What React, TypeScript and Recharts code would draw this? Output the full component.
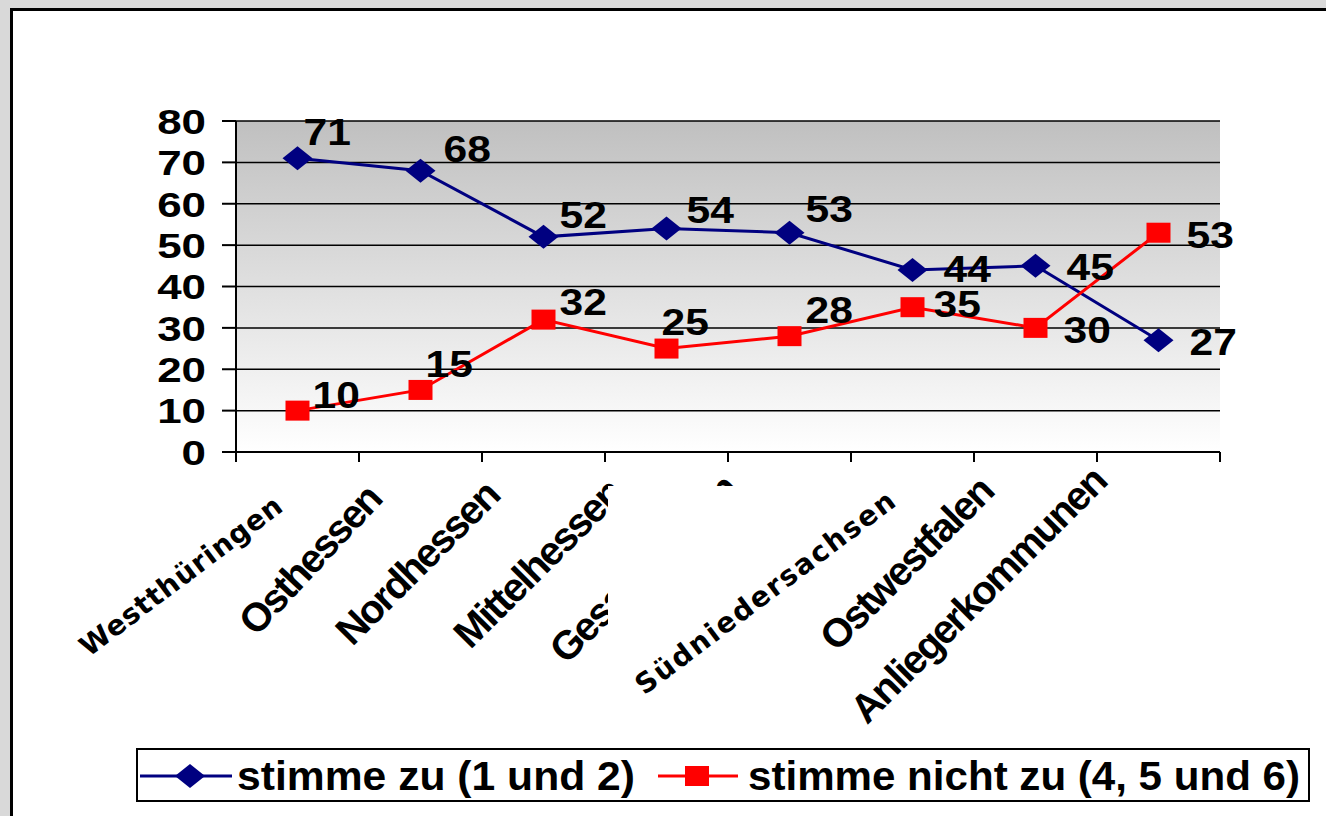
import React from 'react';
import { LineChart, Line, XAxis, YAxis, CartesianGrid, Legend, LabelList } from 'recharts';

const categories = [
  'Westthüringen',
  'Osthessen',
  'Nordhessen',
  'Mittelhessen',
  'Gesamtregion',
  'Südniedersachsen',
  'Ostwestfalen',
  'Anliegerkommunen',
];
const zustimmung = [71, 68, 52, 54, 53, 44, 45, 27];
const ablehnung = [10, 15, 32, 25, 28, 35, 30, 53];
const yTicks = [0, 10, 20, 30, 40, 50, 60, 70, 80];
const seriesNames = ['stimme zu (1 und 2)', 'stimme nicht zu (4, 5 und 6)'];

const data = categories.map((name, i) => ({ name, zu: zustimmung[i], nicht: ablehnung[i] }));

const ARIAL = '"Liberation Sans", Arial, Helvetica, sans-serif';
const DEJAVU = '"DejaVu Sans", Verdana, sans-serif';
const NAVY = '#000080';
const RED = '#ff0000';
const PLOT_W = 984;
const HALF_BAND = PLOT_W / categories.length / 2;

// hand placed value labels (offset from the point, text baseline)
const zuLabelShift = [[6, -13], [23, -9], [16, -9], [20, -6], [16, -11], [31, 12], [31, 14], [31, 15]];
const nichtLabelShift = [[15, -3], [5, -13], [16, -5], [-5, -14], [16, -13], [21, 10], [28, 15], [28, 15]];

// rotated category labels: anchor offset from tick, angle
const tickLook: any[] = [
  { dx: -13, dy: 58, rot: -37, family: DEJAVU, size: 28, len: 245 },
  { dx: -37, dy: 49, rot: -47 },
  { dx: -42, dy: 46, rot: -45 },
  { dx: -42, dy: 44, rot: -45 },
  { dx: -50, dy: 40, rot: -45 },
  { dx: -15, dy: 53, rot: -37, family: DEJAVU, size: 28, len: 317 },
  { dx: -40, dy: 42, rot: -45 },
  { dx: -50, dy: 32, rot: -45 },
];

const diamondPath = (cx: number, cy: number) =>
  `M${cx},${cy - 12} L${cx + 15},${cy} L${cx},${cy + 12} L${cx - 15},${cy} Z`;

const renderDiamond = (p: any) => (
  <path key={`zu-${p.index}`} d={diamondPath(p.cx, p.cy)} fill={NAVY} />
);

const renderSquare = (p: any) => (
  <rect key={`ni-${p.index}`} x={p.cx - 12} y={p.cy - 10} width={24} height={20} fill={RED} />
);

const makeLabel = (shift: number[][]) => (p: any) => {
  const vb = p.viewBox || {};
  const px = vb.x ?? p.x;
  const py = vb.y ?? p.y;
  const [dx, dy] = shift[p.index] || [0, 0];
  return (
    <text
      transform={`translate(${px + dx},${py + dy}) scale(1.15,1)`}
      fontFamily={ARIAL}
      fontSize={37}
      fontWeight="bold"
      fill="#000"
      textAnchor="start"
    >
      {p.value}
    </text>
  );
};

const YTick = (props: any) => {
  const { x, y, payload } = props;
  return (
    <text
      transform={`translate(${x},${y}) scale(1.22,1)`}
      dy="0.355em"
      textAnchor="end"
      fontFamily={ARIAL}
      fontSize={36}
      fontWeight="bold"
      fill="#000"
    >
      {payload.value}
    </text>
  );
};

const XTick = (props: any) => {
  const { x, y, index, payload } = props;
  const look = tickLook[index] || { dx: 0, dy: 40, rot: -45 };
  const last = index === categories.length - 1;
  return (
    <g>
      <line x1={x - HALF_BAND} x2={x - HALF_BAND} y1={y} y2={y + 10} stroke="#000" strokeWidth={2} />
      {last && <line x1={x + HALF_BAND} x2={x + HALF_BAND} y1={y} y2={y + 10} stroke="#000" strokeWidth={2} />}
      {index === 5 && <rect x={x - 304.5} y={y + 34} width={207} height={214} fill="#fff" />}
      <text
        transform={`translate(${x + look.dx},${y + look.dy}) rotate(${look.rot})`}
        textAnchor="end"
        fontFamily={look.family || ARIAL}
        fontSize={look.size || 40}
        fontWeight="bold"
        letterSpacing={look.family ? undefined : -2}
        textLength={look.len}
        lengthAdjust={look.len ? 'spacing' : undefined}
        fill="#000"
      >
        {payload.value}
      </text>
    </g>
  );
};

const LegendBox = (props: any) => {
  const items = props.payload || [];
  const zu = items.find((it: any) => it.dataKey === 'zu');
  const ni = items.find((it: any) => it.dataKey === 'nicht');
  return (
    <svg width={1170} height={50} style={{ display: 'block' }}>
      <line x1={2} x2={94} y1={26} y2={26} stroke={NAVY} strokeWidth={3} />
      <path d={diamondPath(52, 26)} fill={NAVY} />
      <text x={99} y={40} fontFamily={ARIAL} fontSize={40} fontWeight="bold" textLength={398} lengthAdjust="spacingAndGlyphs">
        {zu ? zu.value : seriesNames[0]}
      </text>
      <line x1={520} x2={600} y1={26} y2={26} stroke={RED} strokeWidth={3} />
      <rect x={547} y={16} width={24} height={20} fill={RED} />
      <text x={610} y={40} fontFamily={ARIAL} fontSize={40} fontWeight="bold" textLength={552} lengthAdjust="spacingAndGlyphs">
        {ni ? ni.value : seriesNames[1]}
      </text>
    </svg>
  );
};

export default function App() {
  return (
    <div style={{ position: 'fixed', inset: 0, background: '#d9d9d9', overflow: 'hidden' }}>
      <div
        style={{
          position: 'absolute',
          left: 10,
          top: 8,
          width: 1340,
          height: 840,
          border: '3px solid #000',
          background: '#fff',
        }}
      >
        <LineChart width={1316} height={805} data={data} margin={{ top: 110, right: 109, bottom: 64, left: 143 }}>
          <defs>
            <linearGradient id="plotShade" x1="0" y1="0" x2="0" y2="1">
              <stop offset="0%" stopColor="#c0c0c0" />
              <stop offset="100%" stopColor="#ffffff" />
            </linearGradient>
          </defs>
          <CartesianGrid
            yAxisId="l"
            vertical={false}
            stroke="#000"
            strokeWidth={1.5}
            fill="url(#plotShade)"
            fillOpacity={1}
          />
          <XAxis
            dataKey="name"
            interval={0}
            padding={{ left: HALF_BAND, right: HALF_BAND }}
            height={300}
            tickSize={0}
            tickMargin={0}
            tickLine={false}
            axisLine={{ stroke: '#000', strokeWidth: 2 }}
            tick={<XTick />}
          />
          <YAxis
            yAxisId="l"
            domain={[0, 80]}
            ticks={yTicks}
            interval={0}
            width={80}
            tickSize={14}
            tickMargin={16}
            axisLine={{ stroke: '#000', strokeWidth: 2 }}
            tickLine={{ stroke: '#000', strokeWidth: 2 }}
            tick={<YTick />}
          />
          <YAxis
            yAxisId="r"
            orientation="right"
            domain={[0, 80]}
            width={0}
            tick={false}
            tickLine={false}
            axisLine={{ stroke: '#8c8c8c', strokeWidth: 2 }}
          />
          <Line
            yAxisId="l"
            dataKey="zu"
            name={seriesNames[0]}
            stroke={NAVY}
            strokeWidth={3}
            dot={renderDiamond}
            activeDot={false}
            isAnimationActive={false}
          >
            <LabelList dataKey="zu" content={makeLabel(zuLabelShift)} />
          </Line>
          <Line
            yAxisId="l"
            dataKey="nicht"
            name={seriesNames[1]}
            stroke={RED}
            strokeWidth={3}
            dot={renderSquare}
            activeDot={false}
            isAnimationActive={false}
          >
            <LabelList dataKey="nicht" content={makeLabel(nichtLabelShift)} />
          </Line>
          <Legend
            layout="horizontal"
            verticalAlign="middle"
            align="center"
            content={<LegendBox />}
            wrapperStyle={{
              left: 123,
              top: 737,
              width: 1174,
              height: 54,
              border: '2px solid #000',
              boxSizing: 'border-box',
              background: '#fff',
            }}
          />
        </LineChart>
      </div>
    </div>
  );
}
